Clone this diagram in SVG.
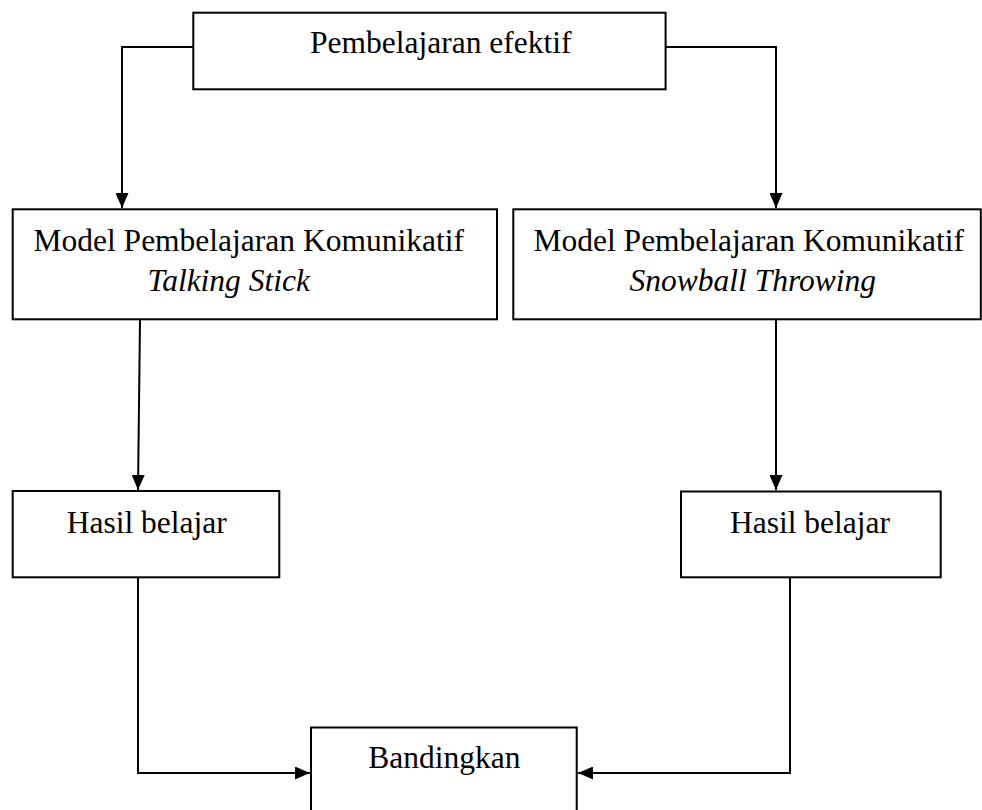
<svg xmlns="http://www.w3.org/2000/svg" width="982" height="810" viewBox="0 0 982 810">
<style>
.box{fill:#fff;stroke:#000;stroke-width:2}
.t{font-family:"Liberation Serif","Times New Roman",serif;font-size:31.5px;fill:#000}
.i{font-style:italic}
.c{fill:none;stroke:#000;stroke-width:2}
</style>
<defs>
<marker id="ah" markerUnits="userSpaceOnUse" markerWidth="16" markerHeight="13" refX="15" refY="6.5" orient="auto">
<path d="M0,0 L15,6.5 L0,13 z" fill="#000"/>
</marker>
</defs>
<rect width="982" height="810" fill="#fff"/>
<g id="connectors">
<path class="c" d="M193,47 H122 V208" marker-end="url(#ah)"/>
<path class="c" d="M666,47 H776 V208" marker-end="url(#ah)"/>
<path class="c" d="M140,320 L138,490" marker-end="url(#ah)"/>
<path class="c" d="M776,320 V490" marker-end="url(#ah)"/>
<path class="c" d="M138,577 V773 H310" marker-end="url(#ah)"/>
<path class="c" d="M790,577 V773 H578" marker-end="url(#ah)"/>
</g>
<g id="n-efektif">
<rect class="box" x="193.3" y="12.7" width="472.3" height="76.6"/>
<text class="t" x="310" y="53">Pembelajaran efektif</text>
</g>
<g id="n-talking">
<rect class="box" x="12.7" y="209.3" width="484.3" height="110"/>
<text class="t" x="33.5" y="251">Model Pembelajaran Komunikatif</text>
<text class="t i" x="147.5" y="291">Talking Stick</text>
</g>
<g id="n-snowball">
<rect class="box" x="513.3" y="209.3" width="467.5" height="110"/>
<text class="t" x="533.5" y="251">Model Pembelajaran Komunikatif</text>
<text class="t i" x="629.5" y="291">Snowball Throwing</text>
</g>
<g id="n-hasil1">
<rect class="box" x="12.7" y="491" width="266.6" height="86.3"/>
<text class="t" x="66.7" y="533">Hasil belajar</text>
</g>
<g id="n-hasil2">
<rect class="box" x="681" y="491.5" width="259.7" height="85.8"/>
<text class="t" x="730" y="533">Hasil belajar</text>
</g>
<g id="n-bandingkan">
<rect class="box" x="311" y="727.5" width="265.7" height="100"/>
<text class="t" x="368.3" y="768.3">Bandingkan</text>
</g>
</svg>
